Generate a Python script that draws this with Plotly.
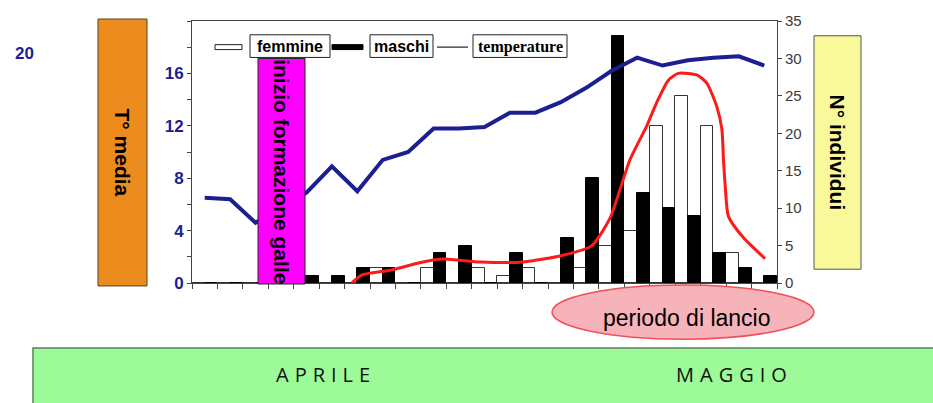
import plotly.graph_objects as go

# ---------------- data ----------------
periodi = list(range(23))  # successive sampling intervals (April -> May)
femmine = [0, 0, 0, 0, 0, 0, 0, 2, 0, 2, 0, 2, 1, 2, 0, 2, 5, 7, 21, 25, 21, 4, 0]
maschi = [0, 0, 0, 0, 1, 1, 2, 2, 0, 4, 5, 0, 4, 0, 6, 14, 33, 12, 10, 9, 4, 2, 1]
temperature = [6.5, 6.4, 4.6, 5.8, 6.9, 8.9, 7.0, 9.4, 10.0, 11.8, 11.8, 11.9, 13.0,
               13.0, 13.8, 14.9, 16.2, 17.2, 16.6, 17.0, 17.2, 17.3, 16.6]
# red trend curve (periodo di lancio)
trend_x = [5.78, 6.17, 7.29, 8.58, 9.37, 10.83, 12.52, 14.09, 15.22, 15.94, 16.71, 17.38,
           17.77, 18.23, 18.62, 19.35, 19.74, 20.13, 20.33, 20.40, 20.47, 20.59, 21.17, 22.03]
trend_y = [0.0, 1.05, 1.7, 2.8, 3.2, 2.8, 2.8, 3.7, 5.0, 8.7, 16.4, 21.0,
           24.1, 27.1, 28.0, 27.8, 26.7, 23.6, 20.6, 16.2, 12.7, 8.9, 6.1, 3.25]

temp_ticks = [0, 2, 4, 6, 8, 10, 12, 14, 16, 18, 20]
temp_ticktext = ["0", "", "4", "", "8", "", "12", "", "16", "", ""]
n_ticks = [0, 5, 10, 15, 20, 25, 30, 35]

FONT = "Liberation Sans, Arial, sans-serif"
NAVY = "#1c1f8f"

# plot area in pixels
L, R, T, B = 192, 777, 17, 283
W, H = 933, 403


def px(x):
    return (x - L) / (R - L)


def py(y):
    return (B - y) / (B - T)


fig = go.Figure()
fig.add_trace(go.Bar(x=periodi, y=femmine, name="femmine", marker=dict(color="white", line=dict(color="#333", width=1)),
                     yaxis="y"))
fig.add_trace(go.Bar(x=periodi, y=maschi, name="maschi", marker=dict(color="black", line=dict(color="black", width=1)),
                     yaxis="y"))
fig.add_trace(go.Scatter(x=trend_x, y=trend_y, mode="lines", line=dict(color="#ff1a1a", width=3, shape="spline", smoothing=0.6),
                         yaxis="y", showlegend=False))
fig.add_trace(go.Scatter(x=periodi, y=temperature, mode="lines", name="temperature",
                         line=dict(color=NAVY, width=4), yaxis="y2"))

shapes = []
annotations = []


def rect(x0, y0, x1, y1, fill, line="#333", lw=1, layer="above"):
    shapes.append(dict(type="rect", xref="paper", yref="paper", x0=px(x0), x1=px(x1), y0=py(y1), y1=py(y0),
                       fillcolor=fill, line=dict(color=line, width=lw), layer=layer))


def text(x, y, t, size, color="black", bold=False, angle=0, family=FONT):
    annotations.append(dict(xref="paper", yref="paper", x=px(x), y=py(y), text=("<b>%s</b>" % t) if bold else t,
                            showarrow=False, textangle=angle, xanchor="center", yanchor="middle",
                            font=dict(family=family, size=size, color=color)))


# side boxes
rect(98, 15, 147, 286, "#ec8c1e", line="#5a4020")
text(122.5, 150, "T° media", 21, bold=True, angle=90)
rect(814, 32, 861, 269, "#f9f99c", line="#555")
text(837.5, 150, "N° individui", 21, bold=True, angle=90)
# magenta box over plot
rect(258, 55, 305, 284, "#ff00ff", line="#222")
text(281.5, 170, "inizio formazione galle", 21, bold=True, angle=90)
# "20" stray label
text(24, 50, "20", 17, color=NAVY, bold=True)

# legend
rect(215, 41, 242, 46, "white", line="#222")
rect(250, 31, 330, 54, "white", line="#222")
text(290, 43, "femmine", 16, bold=True)
rect(332, 41, 363, 46, "black", line="black")
rect(370, 31, 433, 54, "white", line="#222")
text(401.5, 43, "maschi", 16, bold=True)
shapes.append(dict(type="line", xref="paper", yref="paper", x0=px(437), x1=px(468), y0=py(43.5), y1=py(43.5),
                   line=dict(color="#222", width=1.2), layer="above"))
rect(473, 31, 567, 54, "white", line="#222")
text(520, 43, "temperature", 16, bold=True, family="Liberation Serif, serif")

# ellipse
shapes.append(dict(type="circle", xref="paper", yref="paper", x0=px(552), x1=px(814), y0=py(340), y1=py(285),
                   fillcolor="#f6b3b9", line=dict(color="#f0505a", width=1.5), layer="above"))
text(687, 319, "periodo di lancio", 23)

# green banner
rect(33, 349, 940, 410, "#9cfa98", line="#5d7d5d", lw=1.5)
text(326, 376, "APRILE", 20, family="Open Sans, sans-serif", color="#111")
text(734, 376, "MAGGIO", 20, family="Open Sans, sans-serif", color="#111")

fig.update_layout(
    width=W, height=H,
    margin=dict(l=L, r=W - R, t=T, b=H - B),
    paper_bgcolor="white", plot_bgcolor="white",
    barmode="group", bargap=0, bargroupgap=0,
    showlegend=False,
    shapes=shapes, annotations=annotations,
    font=dict(family=FONT),
    xaxis=dict(range=[-0.5, 22.5], showgrid=False, zeroline=False, showline=True, linecolor="#444", linewidth=1,
               mirror=True, tickmode="array", tickvals=[i + 0.5 for i in range(-1, 23)], showticklabels=False,
               ticks="outside", ticklen=5, tickcolor="#444"),
    yaxis=dict(range=[0, 35], side="right", showgrid=False, zeroline=False, showline=True, linecolor="#444",
               linewidth=1, tickmode="array", tickvals=n_ticks, ticks="outside", ticklen=4, tickcolor="#444",
               tickfont=dict(family=FONT, size=15, color="#3a3a3a")),
    yaxis2=dict(range=[0, 20], side="left", overlaying="y", showgrid=False, zeroline=False, showline=True,
                linecolor="#444", linewidth=1, tickmode="array", tickvals=temp_ticks, ticktext=temp_ticktext,
                ticks="outside", ticklen=4, tickcolor="#444",
                tickfont=dict(family=FONT, size=17, color=NAVY, weight="bold")),
)

post = """
document.body.style.margin = '0px';
document.querySelectorAll('.annotation-text').forEach(function(el){
  var t = el.textContent;
  if (t === 'APRILE' || t === 'MAGGIO') { el.style.letterSpacing = '6px'; }
});
"""

fig.write_html("out.html", post_script=post, config={"displayModeBar": False})
